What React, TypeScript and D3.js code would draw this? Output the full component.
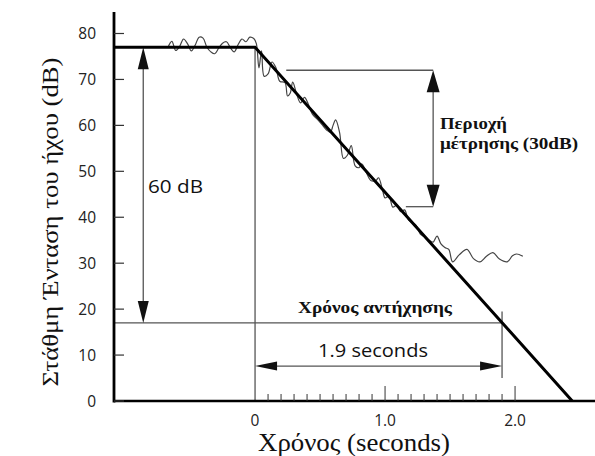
import React from "react";
import * as d3 from "d3";

// axis ticks
const levelTicks = [0, 10, 20, 30, 40, 50, 60, 70, 80];
const timeMajorTicks = [0, 1.0, 2.0];
const timeMajorLabels = ["0", "1.0", "2.0"];
const timeMinorTicks = [0.1, 0.2, 0.3, 0.4, 0.5, 0.6, 0.7, 0.8, 0.9, 1.1, 1.2, 1.3, 1.4, 1.5, 1.6, 1.7, 1.8, 1.9];

// idealised decay (thick line)
const decayTime = [-1.085, 0, 2.44];
const decayLevel = [77, 77, 0];

// measured (noisy) decay
const noiseTime = [-0.67, -0.64, -0.61, -0.58, -0.55, -0.52, -0.49, -0.46, -0.43, -0.4, -0.37, -0.34, -0.31, -0.28, -0.25, -0.22, -0.19, -0.16, -0.13, -0.1, -0.07, -0.04, -0.01, 0.01, 0.03, 0.05, 0.07, 0.1, 0.13, 0.16, 0.19, 0.23, 0.25, 0.27, 0.29, 0.32, 0.35, 0.38, 0.41, 0.44, 0.48, 0.52, 0.55, 0.58, 0.6, 0.62, 0.65, 0.68, 0.71, 0.74, 0.77, 0.8, 0.82, 0.86, 0.89, 0.93, 0.95, 0.98, 1.0, 1.03, 1.06, 1.09, 1.12, 1.15, 1.18, 1.21, 1.24, 1.27, 1.3, 1.34, 1.37, 1.4, 1.43, 1.46, 1.49, 1.52, 1.57, 1.63, 1.68, 1.73, 1.78, 1.83, 1.88, 1.94, 1.98, 2.01, 2.06];
const noiseLevel = [77.0, 78.3, 76.3, 77.2, 78.8, 77.8, 76.2, 77.5, 79.2, 79.0, 77.0, 76.0, 75.6, 76.8, 77.9, 78.2, 76.9, 76.0, 77.6, 78.8, 78.2, 79.2, 78.9, 77.8, 72.5, 76.2, 70.7, 71.2, 73.8, 72.6, 69.6, 69.3, 66.4, 67.0, 69.4, 66.8, 64.9, 66.1, 64.6, 62.5, 61.3, 60.0, 59.0, 58.5, 60.0, 61.2, 58.5, 52.8, 53.5, 55.6, 51.2, 50.8, 51.6, 49.5, 48.0, 48.0, 48.6, 46.0, 44.2, 44.6, 42.2, 42.6, 41.2, 41.6, 39.4, 38.8, 38.2, 36.4, 35.8, 35.0, 34.6, 35.9, 34.2, 33.4, 33.0, 30.3, 31.8, 33.0, 31.0, 30.3, 31.5, 32.3, 30.9, 30.3, 31.6, 32.0, 31.5];

// annotations
const startLevel = 77;
const endLevel = 17;
const reverbTime = 1.9;
const measureTop = 72;
const measureBottom = 42.3;
const measureStartTop = 0.24;
const measureStartBottom = 1.16;
const measureTime = 1.37;
const arrowLevel60 = -0.86;
const arrowLevelTime = 7.6;

const W = 595;
const H = 456;

const serif = "'Liberation Serif', 'DejaVu Serif', serif";
const sans = "'Open Sans', 'Noto Sans', sans-serif";
const grey = "#555";

export default function App() {
  const x = d3.scaleLinear().domain([-1.085, 2.615]).range([114, 595]);
  const y = d3.scaleLinear().domain([0, 80]).range([401, 33.5]);

  const decayLine = d3.line<number>()
    .x((d, i) => x(decayTime[i]))
    .y((d) => y(d))(decayLevel);

  const noiseLine = d3.line<number>()
    .x((d, i) => x(noiseTime[i]))
    .y((d) => y(d))
    .curve(d3.curveCatmullRom)(noiseLevel);

  // filled triangular arrow head, tip at (tx, ty), pointing in direction (dx, dy)
  const head = (tx: number, ty: number, dx: number, dy: number, len: number, half: number) => {
    const bx = tx - dx * len;
    const by = ty - dy * len;
    const px = -dy * half;
    const py = dx * half;
    return `${tx},${ty} ${bx + px},${by + py} ${bx - px},${by - py}`;
  };

  const x0 = x(0);
  const yStart = y(startLevel);
  const yEnd = y(endLevel);
  const xRt = x(reverbTime);
  const x60 = x(arrowLevel60);
  const xM = x(measureTime);
  const yMt = y(measureTop);
  const yMb = y(measureBottom);
  const yRtArrow = y(arrowLevelTime);

  return (
    <svg width={W} height={H} style={{ position: "absolute", left: 0, top: 0, background: "#fff" }}>
      {/* thin guide lines */}
      <g stroke={grey} strokeWidth={1.3} fill="none">
        <line x1={x0} x2={x0} y1={yStart} y2={y(0)} />
        <line x1={x(-1.085)} x2={xRt} y1={yEnd} y2={yEnd} />
        <line x1={xRt} x2={xRt} y1={y(19.5)} y2={y(5)} />
        <line x1={x60} x2={x60} y1={yStart + 18} y2={yEnd - 18} />
        <line x1={x0 + 18} x2={xRt - 18} y1={yRtArrow} y2={yRtArrow} />
        <line x1={x(measureStartTop)} x2={xM} y1={yMt} y2={yMt} />
        <line x1={x(measureStartBottom)} x2={xM} y1={yMb} y2={yMb} />
        <line x1={xM} x2={xM} y1={yMt + 18} y2={yMb - 18} />
      </g>

      {/* arrow heads */}
      <g fill="#111">
        <polygon points={head(x60, yStart, 0, -1, 22, 5.5)} />
        <polygon points={head(x60, yEnd, 0, 1, 22, 5.5)} />
        <polygon points={head(xM, yMt, 0, -1, 22, 6.5)} />
        <polygon points={head(xM, yMb, 0, 1, 22, 6.5)} />
        <polygon points={head(x0, yRtArrow, -1, 0, 22, 4.5)} />
        <polygon points={head(xRt, yRtArrow, 1, 0, 22, 4.5)} />
      </g>

      {/* measured decay */}
      <path d={noiseLine || ""} fill="none" stroke="#444" strokeWidth={1.2} />

      {/* idealised decay */}
      <path d={decayLine || ""} fill="none" stroke="#000" strokeWidth={3} />

      {/* axes */}
      <line x1={114} x2={114} y1={y(84.7)} y2={y(0) + 1.5} stroke="#000" strokeWidth={2.8} />
      <line x1={114} x2={W} y1={y(0)} y2={y(0)} stroke="#000" strokeWidth={2.6} />

      {levelTicks.map((t) => (
        <g key={t}>
          <line x1={114} x2={124} y1={y(t)} y2={y(t)} stroke="#333" strokeWidth={1.2} />
          <text x={96} y={y(t)} dy="0.36em" textAnchor="end" fontFamily={sans} fontSize={15.5} fill="#222">
            {t}
          </text>
        </g>
      ))}

      {timeMinorTicks.map((t) => (
        <line key={t} x1={x(t)} x2={x(t)} y1={y(0)} y2={y(0) - 7} stroke="#333" strokeWidth={1} />
      ))}
      {timeMajorTicks.map((t, i) => (
        <g key={t}>
          {t > 0 && <line x1={x(t)} x2={x(t)} y1={y(0)} y2={y(0) - 15} stroke="#333" strokeWidth={1} />}
          <text x={x(t)} y={426} textAnchor="middle" fontFamily={sans} fontSize={15.5} fill="#222">
            {timeMajorLabels[i]}
          </text>
        </g>
      ))}

      {/* labels */}
      <text x={148} y={193} fontFamily={sans} fontSize={19} textLength={55} lengthAdjust="spacingAndGlyphs" fill="#111">60 dB</text>
      <text x={318} y={357} fontFamily={sans} fontSize={19} textLength={110} lengthAdjust="spacingAndGlyphs" fill="#111">1.9 seconds</text>
      <text x={298} y={313} fontFamily={serif} fontWeight="bold" fontSize={17} textLength={154} lengthAdjust="spacingAndGlyphs" fill="#111">
        Χρόνος αντήχησης
      </text>
      <text x={440} y={129} fontFamily={serif} fontWeight="bold" fontSize={17.5} textLength={67} lengthAdjust="spacingAndGlyphs" fill="#111">Περιοχή</text>
      <text x={440} y={149} fontFamily={serif} fontWeight="bold" fontSize={17.5} textLength={138} lengthAdjust="spacingAndGlyphs" fill="#111">μέτρησης (30dB)</text>

      <text
        transform={`translate(58, 222) rotate(-90)`}
        textAnchor="middle"
        fontFamily={serif}
        fontSize={23}
        textLength={329}
        lengthAdjust="spacingAndGlyphs"
        fill="#111"
      >
        Στάθμη Ένταση του ήχου (dB)
      </text>
      <text x={354} y={451} textAnchor="middle" fontFamily={serif} fontSize={25} textLength={192} lengthAdjust="spacingAndGlyphs" fill="#111">
        Χρόνος (seconds)
      </text>
    </svg>
  );
}
